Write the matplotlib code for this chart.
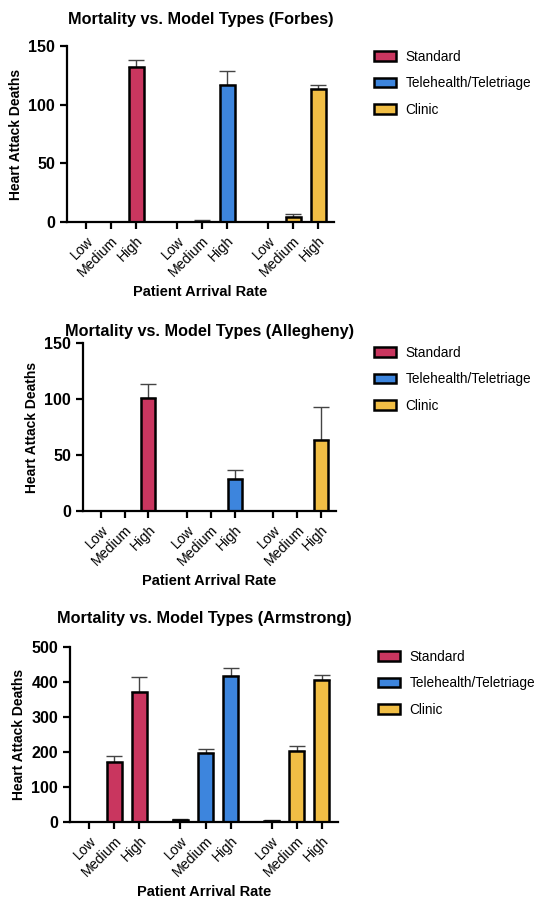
import numpy as np
import matplotlib.pyplot as plt
from matplotlib.patches import Patch

plt.rcParams['font.family'] = ['Liberation Sans', 'DejaVu Sans']

levels = ['Low', 'Medium', 'High']
models = ['Standard', 'Telehealth/Teletriage', 'Clinic']
colors = ['#C9365F', '#3D85DD', '#F1BE45']

# mean deaths per model (rows) and arrival rate (cols), with upper error
forbes_mean = [[0, 0, 132], [0, 0, 117], [0, 4, 113]]
forbes_err = [[0, 0, 6], [0, 1.7, 12], [0, 3, 4]]
allegheny_mean = [[0, 0, 101], [0, 0, 29], [0, 0, 63]]
allegheny_err = [[0, 0, 12], [0, 0, 8], [0, 0, 30]]
armstrong_mean = [[1, 171, 371], [6, 198, 418], [3, 203, 405]]
armstrong_err = [[0, 19, 44], [3, 10, 21], [2, 13, 15]]

# name, means, errors, ymax, ystep, axes box (px), title pad, legend corner (px)
panels = [
    ('Forbes', forbes_mean, forbes_err, 150, 50,
     [67, 46, 334, 222], 16, (374, 50)),
    ('Allegheny', allegheny_mean, allegheny_err, 150, 50,
     [83, 343, 336, 511], 5, (374, 346)),
    ('Armstrong', armstrong_mean, armstrong_err, 500, 100,
     [70, 647, 338, 822], 17, (378, 650)),
]
gstep = 3.64

W, H = 540, 901
fig = plt.figure(figsize=(W / 100, H / 100), dpi=100)

for name, mean, err, ymax, ystep, box, tpad, legpos in panels:
    x0, y0, x1, y1 = box
    ax = fig.add_axes([x0 / W, 1 - y1 / H, (x1 - x0) / W, (y1 - y0) / H])
    ticks, labels = [], []
    for g in range(3):
        pos = g * gstep + np.arange(3)
        m = np.array(mean[g], dtype=float)
        e = np.array(err[g], dtype=float)
        ax.bar(pos, m, width=0.6, color=colors[g], edgecolor='black',
               linewidth=1.8, zorder=2)
        keep = e > 0
        if keep.any():
            ax.errorbar(pos[keep], m[keep],
                        yerr=[np.zeros(keep.sum()), e[keep]],
                        fmt='none', ecolor='#444444', elinewidth=1,
                        capsize=6, capthick=1, zorder=1)
        ticks += list(pos)
        labels += levels
    ax.set_xticks(ticks)
    ax.set_xticklabels(labels, rotation=45, ha='right', rotation_mode='anchor',
                       fontsize=10.2)
    ax.set_xlim(-0.76, 2 * gstep + 2 + 0.64)
    ax.set_ylim(0, ymax)
    ax.set_yticks(np.arange(0, ymax + 1, ystep))
    for t in ax.get_yticklabels():
        t.set_fontweight('bold')
        t.set_fontsize(11.5)
    for s in ['top', 'right']:
        ax.spines[s].set_visible(False)
    for s in ['left', 'bottom']:
        ax.spines[s].set_linewidth(1.6)
    ax.tick_params(axis='both', direction='out', length=5, width=1.6)
    ax.set_ylabel('Heart Attack Deaths', fontsize=10, fontweight='bold')
    ax.set_xlabel('Patient Arrival Rate', fontsize=10.5, fontweight='bold',
                  labelpad=4)
    ax.set_title(f'Mortality vs. Model Types ({name})', fontsize=11.7,
                 fontweight='bold', pad=tpad)

    handles = [Patch(facecolor=c, edgecolor='black', linewidth=1.8)
               for c in colors]
    fig.legend(handles, models, loc='upper left',
               bbox_to_anchor=(legpos[0] / W, 1 - legpos[1] / H),
               frameon=False, fontsize=9.8, borderpad=0, borderaxespad=0,
               handlelength=1.6, handleheight=0.7, labelspacing=0.9,
               handletextpad=0.7)

fig.savefig('out.png', dpi=100, facecolor='white')
